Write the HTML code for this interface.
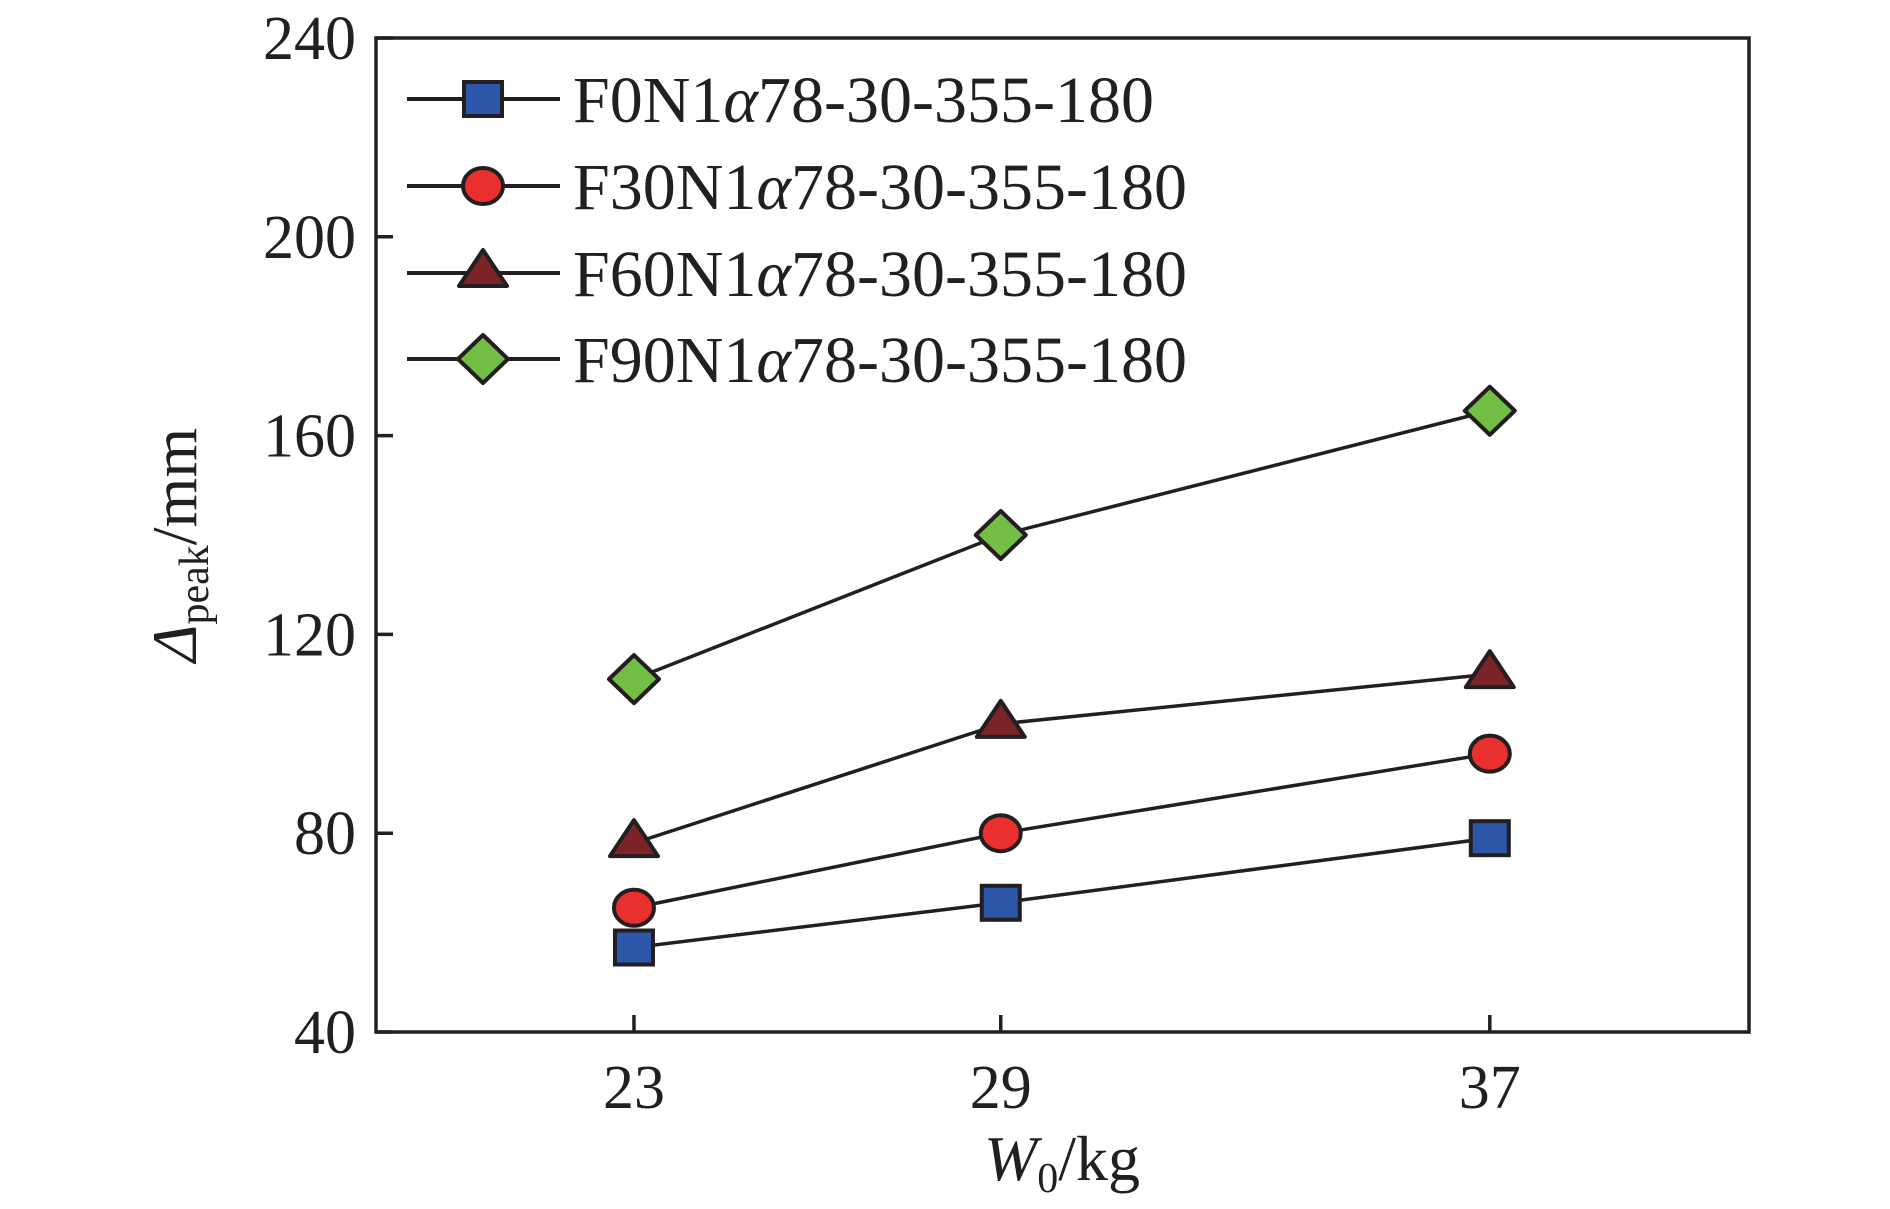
<!DOCTYPE html>
<html><head><meta charset="utf-8"><style>
html,body{margin:0;padding:0;background:#fff;}
svg{display:block;font-family:"Liberation Serif",serif;}
</style></head><body>
<svg id="chart" width="1890" height="1209" viewBox="0 0 1890 1209" xmlns="http://www.w3.org/2000/svg">
<rect width="1890" height="1209" fill="#fff"/>
<g id="g"></g>
</svg>
<script>
const categories=[23,29,37];
const seriesNames=["F0N1","F30N1","F60N1","F90N1"];
const f0=[57,66,79];
const f30=[65,80,96];
const f60=[78,102,112];
const f90=[111,140,165];
const yTicks=[40,80,120,160,200,240];
const xTicks=[23,29,37];

const L=376,R=1749,T=38,B=1032;
const X0=18.78,X1=41.24,Y0=40,Y1=240;
const sx=v=>L+(v-X0)/(X1-X0)*(R-L);
const sy=v=>B-(v-Y0)/(Y1-Y0)*(B-T);
const NS="http://www.w3.org/2000/svg";
const g=document.getElementById('g');
function mk(tag,attrs,parent){const e=document.createElementNS(NS,tag);for(const k in attrs)e.setAttribute(k,attrs[k]);(parent||g).appendChild(e);return e;}
const ink="#231f20";

let frame=mk('rect',{x:L,y:T,width:R-L,height:B-T,fill:'none',stroke:ink,'stroke-width':3.5});



yTicks.forEach(v=>{
  let t=mk('line',{x1:L,x2:L+17,y1:sy(v),y2:sy(v),stroke:ink,'stroke-width':3.5});
  
  
  let lb=mk('text',{x:356,y:sy(v)+21,'text-anchor':'end','font-size':62,fill:ink});
  lb.textContent=v;
  
  
});
xTicks.forEach(v=>{
  let t=mk('line',{x1:sx(v),x2:sx(v),y1:B,y2:B-17,stroke:ink,'stroke-width':3.5});
  
  
  let lb=mk('text',{x:sx(v),y:1108,'text-anchor':'middle','font-size':62,fill:ink});
  lb.textContent=v;
  
  
});

function marker(type,cx,cy,parent){
  let e;
  if(type==='square') e=mk('rect',{x:cx-19,y:cy-17,width:38,height:34,fill:'#2c56a8',stroke:ink,'stroke-width':4},parent);
  else if(type==='circle') e=mk('ellipse',{cx:cx,cy:cy,rx:20,ry:18,fill:'#ea2f2f',stroke:ink,'stroke-width':4},parent);
  else if(type==='tri') e=mk('polygon',{points:`${cx},${cy-23} ${cx+24},${cy+13} ${cx-24},${cy+13}`,fill:'#7a2428',stroke:ink,'stroke-width':4,'stroke-linejoin':'round'},parent);
  else e=mk('polygon',{points:`${cx},${cy-24} ${cx+25},${cy} ${cx},${cy+24} ${cx-25},${cy}`,fill:'#73bf45',stroke:ink,'stroke-width':4,'stroke-linejoin':'round'},parent);
  return e;
}
const series=[[f0,'square'],[f30,'circle'],[f60,'tri'],[f90,'diamond']];
const labels=["F0N1","F30N1","F60N1","F90N1"];
series.forEach(([vals,type],i)=>{
  const sg=mk('g',{});
  
  
  const pl=mk('polyline',{points:vals.map((v,j)=>sx(categories[j])+','+sy(v)).join(' '),fill:'none',stroke:ink,'stroke-width':3.5},sg);
  
  
  vals.forEach((v,j)=>{
    const m=marker(type,sx(categories[j]),sy(v),sg);
    
    
  });
  const ly=[99,186,273,359][i];
  const lg=mk('g',{});
  
  
  mk('line',{x1:407,x2:560,y1:ly,y2:ly,stroke:ink,'stroke-width':4},lg);
  marker(type,483,ly,lg);
  const tx=mk('text',{x:573,y:ly+23,'font-size':66,fill:ink},lg);
  tx.innerHTML=labels[i]+'<tspan font-style="italic">α</tspan>78-30-355-180';
});

let yt=mk('text',{transform:'translate(196,545) rotate(-90)','text-anchor':'middle','font-size':64,fill:ink});
yt.innerHTML='<tspan font-style="italic">Δ</tspan><tspan font-size="42" dy="12">peak</tspan><tspan dy="-12">/mm</tspan>';


let xt=mk('text',{x:1062,y:1180,'text-anchor':'middle','font-size':64,fill:ink});
xt.innerHTML='<tspan font-style="italic">W</tspan><tspan font-size="42" dy="12">0</tspan><tspan dy="-12">/kg</tspan>';


</script>
</body></html>
